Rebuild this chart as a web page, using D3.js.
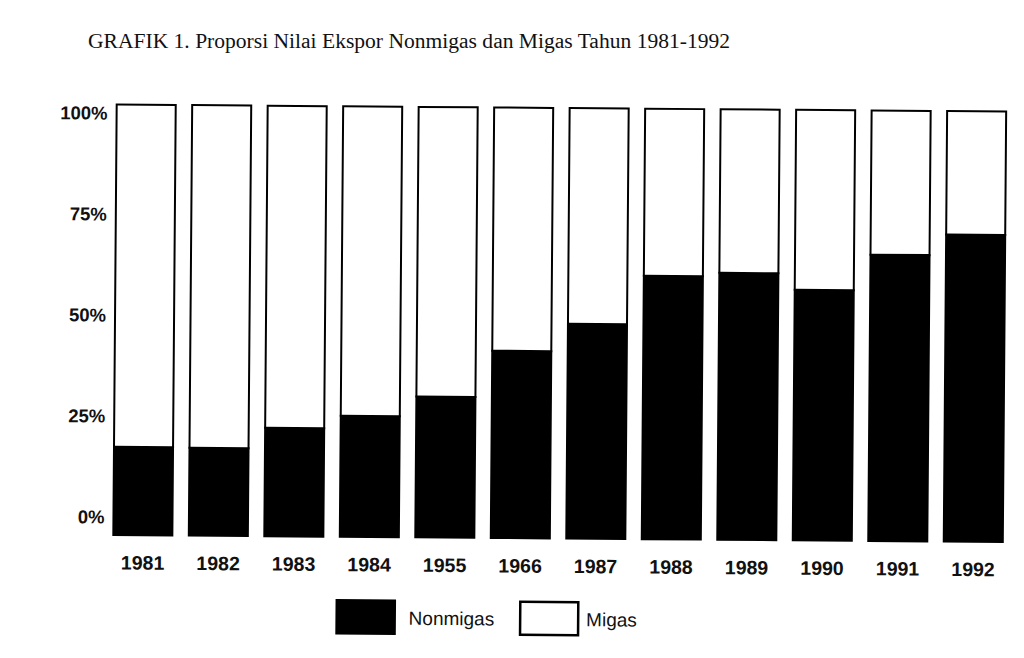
<!DOCTYPE html>
<html>
<head>
<meta charset="utf-8">
<script src="https://cdn.jsdelivr.net/npm/d3@7"></script>
<style>
  html, body { margin: 0; padding: 0; background: #fff; }
  svg { display: block; }
</style>
</head>
<body>
<svg id="chart" width="1024" height="658"></svg>
<script>
// year labels as printed in the source (including its typos)
const years = ["1981", "1982", "1983", "1984", "1955", "1966", "1987", "1988", "1989", "1990", "1991", "1992"];
const nonmigas = [20.5, 20.4, 25.2, 28.1, 32.7, 43.5, 49.9, 61.2, 62.0, 58.2, 66.5, 71.3];
const migas = nonmigas.map((v) => 100 - v);
const yTicks = [0, 25, 50, 75, 100];
const seriesNames = ["Nonmigas", "Migas"];
const seriesFill = { Nonmigas: "#000", Migas: "#fff" };

const svg = d3.select("#chart");

svg
  .append("text")
  .attr("x", 88)
  .attr("y", 48)
  .attr("font-family", "'Liberation Serif', 'DejaVu Serif', serif")
  .attr("font-size", 20.5)
  .attr("textLength", 642)
  .attr("lengthAdjust", "spacingAndGlyphs")
  .attr("fill", "#111")
  .text("GRAFIK 1. Proporsi Nilai Ekspor Nonmigas dan Migas Tahun 1981-1992");

// the scan is tilted a little, so the whole chart body is turned with it
const g = svg.append("g").attr("transform", "rotate(0.45, 560, 322)");

const x = d3.scaleBand().domain(years).range([115, 1004.5]).paddingInner(0.218).paddingOuter(0);
const y = d3.scaleLinear().domain([0, 100]).range([538.5, 108]);
// tick labels in the original do not sit on the bar scale
const yLab = d3.scaleLinear().domain([0, 100]).range([520.6, 116.7]);

const rows = years.map((yr, i) => ({ year: yr, Nonmigas: nonmigas[i], Migas: migas[i] }));
const stacked = d3.stack().keys(seriesNames)(rows);

g.append("g")
  .selectAll("g")
  .data(stacked)
  .join("g")
  .attr("fill", (s) => seriesFill[s.key])
  .selectAll("rect")
  .data((s) => s)
  .join("rect")
  .attr("x", (d) => x(d.data.year))
  .attr("y", (d) => y(d[1]))
  .attr("width", x.bandwidth())
  .attr("height", (d) => y(d[0]) - y(d[1]))
  .attr("stroke", "#000")
  .attr("stroke-width", 2);

const yAxis = g
  .append("g")
  .attr("transform", "translate(106,0)")
  .call(d3.axisLeft(yLab).tickValues(yTicks).tickFormat((d) => d + "%").tickSize(0).tickPadding(0));
yAxis.select(".domain").remove();
yAxis
  .selectAll("text")
  .attr("font-family", "'Liberation Sans', Arial, sans-serif")
  .attr("font-weight", "bold")
  .attr("font-size", 18.5)
  .attr("fill", "#111");

const xAxis = g
  .append("g")
  .attr("transform", "translate(0,559)")
  .call(d3.axisBottom(x).tickSize(0).tickPadding(0));
xAxis.select(".domain").remove();
xAxis
  .selectAll("text")
  .attr("font-family", "'Liberation Sans', Arial, sans-serif")
  .attr("font-weight", "bold")
  .attr("font-size", 19.5)
  .attr("fill", "#111");

// legend
const legendX = [339, 522.5];
const legendTextX = [72, 66];
const legend = g
  .append("g")
  .selectAll("g")
  .data(seriesNames)
  .join("g")
  .attr("transform", (d, i) => `translate(${legendX[i]},602)`);

legend
  .append("rect")
  .attr("width", 58)
  .attr("height", 33)
  .attr("fill", (d) => seriesFill[d])
  .attr("stroke", "#000")
  .attr("stroke-width", 2.5);

legend
  .append("text")
  .attr("x", (d, i) => legendTextX[i])
  .attr("y", 24)
  .attr("font-family", "'Liberation Sans', Arial, sans-serif")
  .attr("font-size", 19)
  .attr("fill", "#111")
  .text((d) => d);
</script>
</body>
</html>
